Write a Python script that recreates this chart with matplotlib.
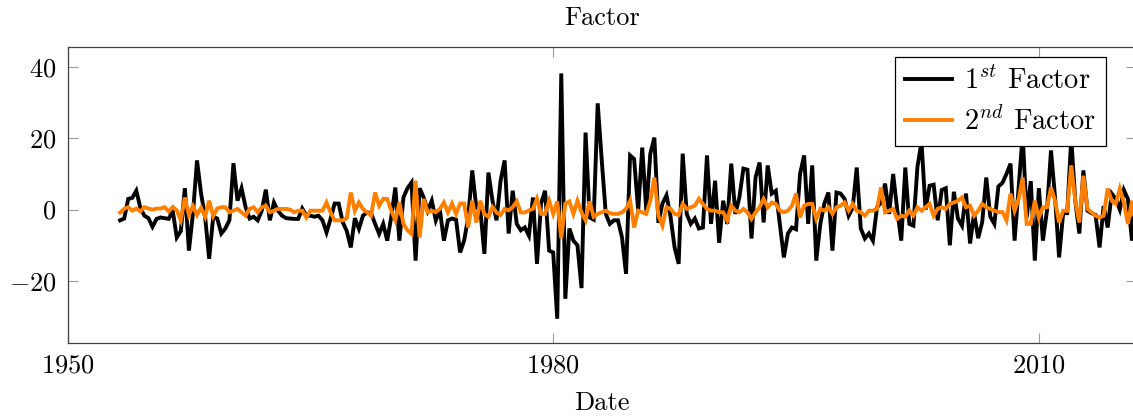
import numpy as np
import matplotlib
matplotlib.use("Agg")
import matplotlib.pyplot as plt

plt.rcParams['font.family'] = 'serif'
plt.rcParams['font.serif'] = ['cmr10', 'DejaVu Serif']
plt.rcParams['mathtext.fontset'] = 'cm'
plt.rcParams['axes.formatter.use_mathtext'] = True
plt.rcParams['axes.unicode_minus'] = True

start_year = 1953.25
step = 0.25

factor1 = [
    # 1953.25 - 1959.5
    -3, -2.5, 3, 3.3, 5.3, 0.5, -1.7, -2.4, -4.8, -2.6, -2.2, -2.4, -2.6, -0.3, -7.8, -6, 6, -11.5, -1, 13.8,
    4.5, -2, -13.8, -2, -2.5, -6.7,
    # 1959.75 - 1966.75
    -5.3, -3, 13, 2.5, 6, 0.7, -2.5, -2, -3, -0.3, 5.6, -3, 2, -0.3, -1.7, -2.4, -2.5, -2.6, -2.6, 0.3,
    -1.7, -1.7, -2, -1.7, -3, -6.4, -2.6, 1.7, 1.7,
    # 1967.0 - 1973.5
    -3.5, -6, -10.6, -2.4, -5.4, -1.7, -0.8, -1, -4, -6.8, -4, -8.7, -2, 6.2, -8.7, 3.4, 6, 7.6, -14.3, 6,
    3.4, -0.3, 2.5, -3, 0, -8.7, -3,
    # 1973.75 - 1980.75
    -2.5, -2.8, -12, -8.7, -2.2, 11, 0.6, 0, -12.4, 10.4, 2.5, -3, 8.1, 13.8, -6.7, 5.3, -4, -5.8, -5, -7.3,
    3.4, -15.2, 1.7, 5.3, -11.5, -12, -30.6, 38.2, -25,
    # 1981.0 - 1987.75
    -5.3, -8.7, -10, -22, 21.6, -2.2, -2.8, 29.8, 13.8, -1.2, -4, -3, -3, -7.8, -18, 15.2, 14.2, -0.3, 17.4, -0.3,
    15.7, 20.2, -3.7, 1.7, 4, -2, -10.6, -15.2,
    # 1988.0 - 1994.75
    15.7, -1.2, -4, -2.5, -5.3, -5, 15.2, -4, 8.1, -9.3, 2.5, -4, 12.9, -1.2, 3.4, 11.5, 11.2, -8.1, 9, 13.2,
    -3.6, 12.4, 4.5, 5.3, -4, -13.4, -6.7, -5,
    # 1995.0 - 2001.5
    -5.5, 10, 15.2, -4, 12.4, -14.3, -4, 1.7, 4.8, -11.5, 4.8, 4.5, 3, -1.7, 0.5, 11.8, -5.3, -8.1, -6.7, -8.7,
    0.6, 2, 7.3, -1.2, 10, 0, -8.7,
    # 2001.75 - 2008.75
    11.8, -4, -4.5, 12, 19, 0, 6.7, 7, -3, 5.5, 6, -10, 5, -2.5, -4.5, 4.5, -9.5, -1, -8, -3.5,
    9, -2, -4, 6.5, 7.5, 10, 12.9, -8.7, 6,
    # 2009.0 - 2016.0
    21, -2.2, 8, -14.3, 6, -8.7, -0.3, 16.6, 3.4, -13.4, -1, -1, 20, 2.5, -6.7, 11, -0.3, -1, -1.5, -10.6,
    1, -5, 4.5, 3, 0, 5.5, 3, -8.7, 5,
]

factor2 = [
    # 1953.25 - 1959.5
    -0.8, 0.2, 0.7, -0.3, 0.3, -0.5, 0.7, 0.3, 0, 0.3, 0.3, 0.7, -0.5, 0.7, -0.2, -3, 3.4, -1.5, 1, -1.5,
    0.5, -2, 2.5, -1.8, 0.3, 0.7,
    # 1959.75 - 1966.75
    0.65, -0.75, -0.3, 0.2, -0.75, -1.7, 0.2, 0.65, -0.75, 0.65, 1.1, -0.75, -0.3, 0.2, 0.2, 0.2, 0, -0.75, -0.3, -0.3,
    -2.2, -0.3, -0.3, -0.3, -0.3, 2, -0.75, -3, -3,
    # 1967.0 - 1973.5
    -3, -2.4, 4.8, -0.3, 2, 0.2, -0.75, -1.7, 4.8, 1.1, 3, 3, -0.3, -3, 2, -4, -5.8, -6.8, 8.1, -7.8,
    3, -0.75, -0.3, -0.75, 0.2, 2, -0.75,
    # 1973.75 - 1980.75
    1.7, -1.2, 1.7, 1.7, -5, 2.5, -3.6, 2.5, -1.2, -2, 0.7, -0.8, -1.5, 0.2, -0.2, 0.7, 2.3, -0.8, -0.8, -0.2,
    0.2, 3.1, -1.2, -1.2, 2.5, -1.2, 2.3, -8, 1.7,
    # 1981.0 - 1987.75
    2.3, -1.2, 2.5, -0.75, -3, 2.3, -2, -1.2, -0.75, -0.3, -1, -1.2, -1.2, -0.75, 0.2, 2.5, -5, -0.3, -0.75, -1.2,
    2.5, 9, -1.7, -4.5, 0.7, 0.2, -1.2, -1.5,
    # 1988.0 - 1994.75
    1.6, 0.2, 0.65, 1.1, 3, 1.6, 0.2, -0.3, -0.3, -0.75, -0.75, -3, 1.1, -0.3, -0.75, 0.2, -0.75, -2.6, -0.75, 0.65,
    3, 0.65, 2, 1.6, -0.3, -0.75, -0.3, 1.1,
    # 1995.0 - 2001.5
    4.5, -2.2, 1.1, 1.6, 1.6, -2.6, 0.2, -0.3, 0.65, -1.2, 0.65, 1.1, 2, -0.3, 1.6, -0.3, -0.75, -1.7, -0.3, -0.3,
    0.2, 6.2, -0.75, -0.3, 0.2, -2.6, -1.7,
    # 2001.75 - 2008.75
    -2, -0.3, -1.7, 0.65, -0.3, 0.65, 1.6, -1.7, 0.2, 0.65, 0.2, 1.6, 2, 2.5, 3.4, 0.65, 1.1, -1.7, -0.3, 1.6,
    0.65, 0.2, -0.3, -0.7, -0.7, -3, 4.5, -0.3, 3,
    # 2009.0 - 2016.0
    9, -4, -4, 2.5, -2.2, 0.65, 0.65, 6.2, 2.5, -3.6, -0.3, -0.3, 12.4, 2.5, -3.6, 9.5, 0.2, -0.75, -1.7, -2.2,
    -1.7, 5.9, 2.5, 1.6, 5.9, 2, -4, 2.5, -5,
]

labels = [r"$1^{st}$ Factor", r"$2^{nd}$ Factor"]
x_ticks = [1950, 1980, 2010]
y_ticks = [-20, 0, 20, 40]

dates1 = start_year + step * np.arange(len(factor1))
dates2 = start_year + step * np.arange(len(factor2))

W, H = 1133, 418
fig = plt.figure(figsize=(W / 100, H / 100), dpi=100)
left, right, top, bottom = 67.5, 1136, 47, 343
ax = fig.add_axes([left / W, 1 - bottom / H, (right - left) / W, (bottom - top) / H])

ax.plot(dates1, factor1, color='black', lw=2.8, label=labels[0], solid_joinstyle='miter')
ax.plot(dates2, factor2, color='#ff8000', lw=2.8, label=labels[1], solid_joinstyle='miter')

ax.set_xlim(1950, 2016)
ax.set_ylim(-37.4, 45.6)
ax.set_xticks(x_ticks)
ax.set_yticks(y_ticks)

fs = 19
ax.tick_params(direction='in', length=7.5, width=0.8, color='#999999',
               top=True, right=True, labelsize=fs, pad=8)
for s in ax.spines.values():
    s.set_color('#404040')
    s.set_linewidth(0.9)

ax.set_title("Factor", fontsize=fs, pad=16)
ax.set_xlabel("Date", fontsize=fs, labelpad=10)

leg = ax.legend(loc='upper right', bbox_to_anchor=(1106 / W, 1 - 57 / H),
                bbox_transform=fig.transFigure, borderaxespad=0, fontsize=20.5,
                frameon=True, fancybox=False, edgecolor='black', framealpha=1,
                handlelength=1.65, handletextpad=0.4, borderpad=0.35, labelspacing=0.42)
leg.get_frame().set_linewidth(0.9)

fig.savefig("out.png", dpi=100)
